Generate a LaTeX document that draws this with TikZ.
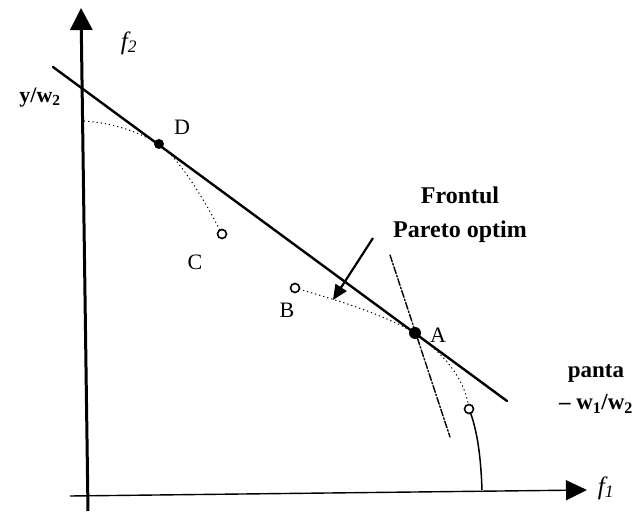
\documentclass[tikz,border=0pt]{standalone}
\usepackage{fontspec}
\setmainfont{Liberation Serif}
\usepackage{tkz-euclide}
\usetikzlibrary{arrows.meta,calc}

\tikzset{
  lbl/.style={font=\fontsize{22}{24}\selectfont,inner sep=0pt},
  txt/.style={font=\fontsize{24}{34}\selectfont\bfseries,inner sep=0pt,align=center},
  front/.style={line width=1pt,dash pattern=on 1.2pt off 3pt},
}

\begin{document}
\begin{tikzpicture}[x=1pt,y=1pt]
\useasboundingbox (0,0) rectangle (642,511);
\tkzSetUpLine[line width=2.4pt,color=black]

\tkzDefPoints{88/0/O,81/503/Y,70/15/O',587/21/X,53/444/L,507/110/R}
\tkzDefPoints{159/367/D,222/277/C,295/223/B,415/178/A,469/102/E}
\tkzDefPoints{84/390/S,482/21/G,390/256/T,450/74/T',373/273/P,333/211/P'}

% axes
\draw[line width=3pt,-{Triangle[width=22pt,length=22pt]}] (O)--(Y);
\draw[line width=1.4pt,-{Triangle[width=20pt,length=21pt]}] (O')--(X);

% the front
\draw[front] (S) .. controls (115,388) and (140,378) .. (D);
\draw[front] (D) .. controls (180,352) and (205,310) .. (C);
\draw[front] (B) .. controls (340,210) and (380,198) .. (A);
\draw[front] (A) .. controls (440,160) and (465,135) .. (E);
\draw[line width=1.5pt] (E) .. controls (478,80) and (481,50) .. (G);

% tangent at A and the line of slope -w1/w2
\tkzDrawSegments[line width=1.4pt,dash pattern=on 7pt off 2pt on 1.5pt off 2pt](T,T')
\tkzDrawSegments(L,R)
\draw[line width=2.2pt,-{Triangle[width=13pt,length=15pt]}] (P)--(P');

\fill (A) circle (6);
\fill (D) circle (5);
\foreach \p in {B,C,E}
  \draw[line width=1.6pt,fill=white] (\p) circle (4.5);

\node[lbl] (lD) at (182,384) {D};
\node[lbl] (lC) at (195,249) {C};
\node[lbl] (lB) at (287,201) {B};
\node[lbl] (lA) at (438,176) {A};
\node[lbl,font=\fontsize{25}{26}\selectfont\itshape] (f2) at (129,468) {f\textsubscript{2}};
\node[lbl,font=\fontsize{25}{26}\selectfont\itshape] (f1) at (606,23) {f\textsubscript{1}};
\node[lbl,font=\fontsize{22}{24}\selectfont\bfseries] (yw) at (40,413) {y/w\textsubscript{2}};
\node[txt] (fr) at (460,296) {Frontul\\Pareto optim};
\node[txt,font=\fontsize{23}{32}\selectfont\bfseries] (pa) at (596,122) {panta\\-- w\textsubscript{1}/w\textsubscript{2}};

\end{tikzpicture}
\end{document}
